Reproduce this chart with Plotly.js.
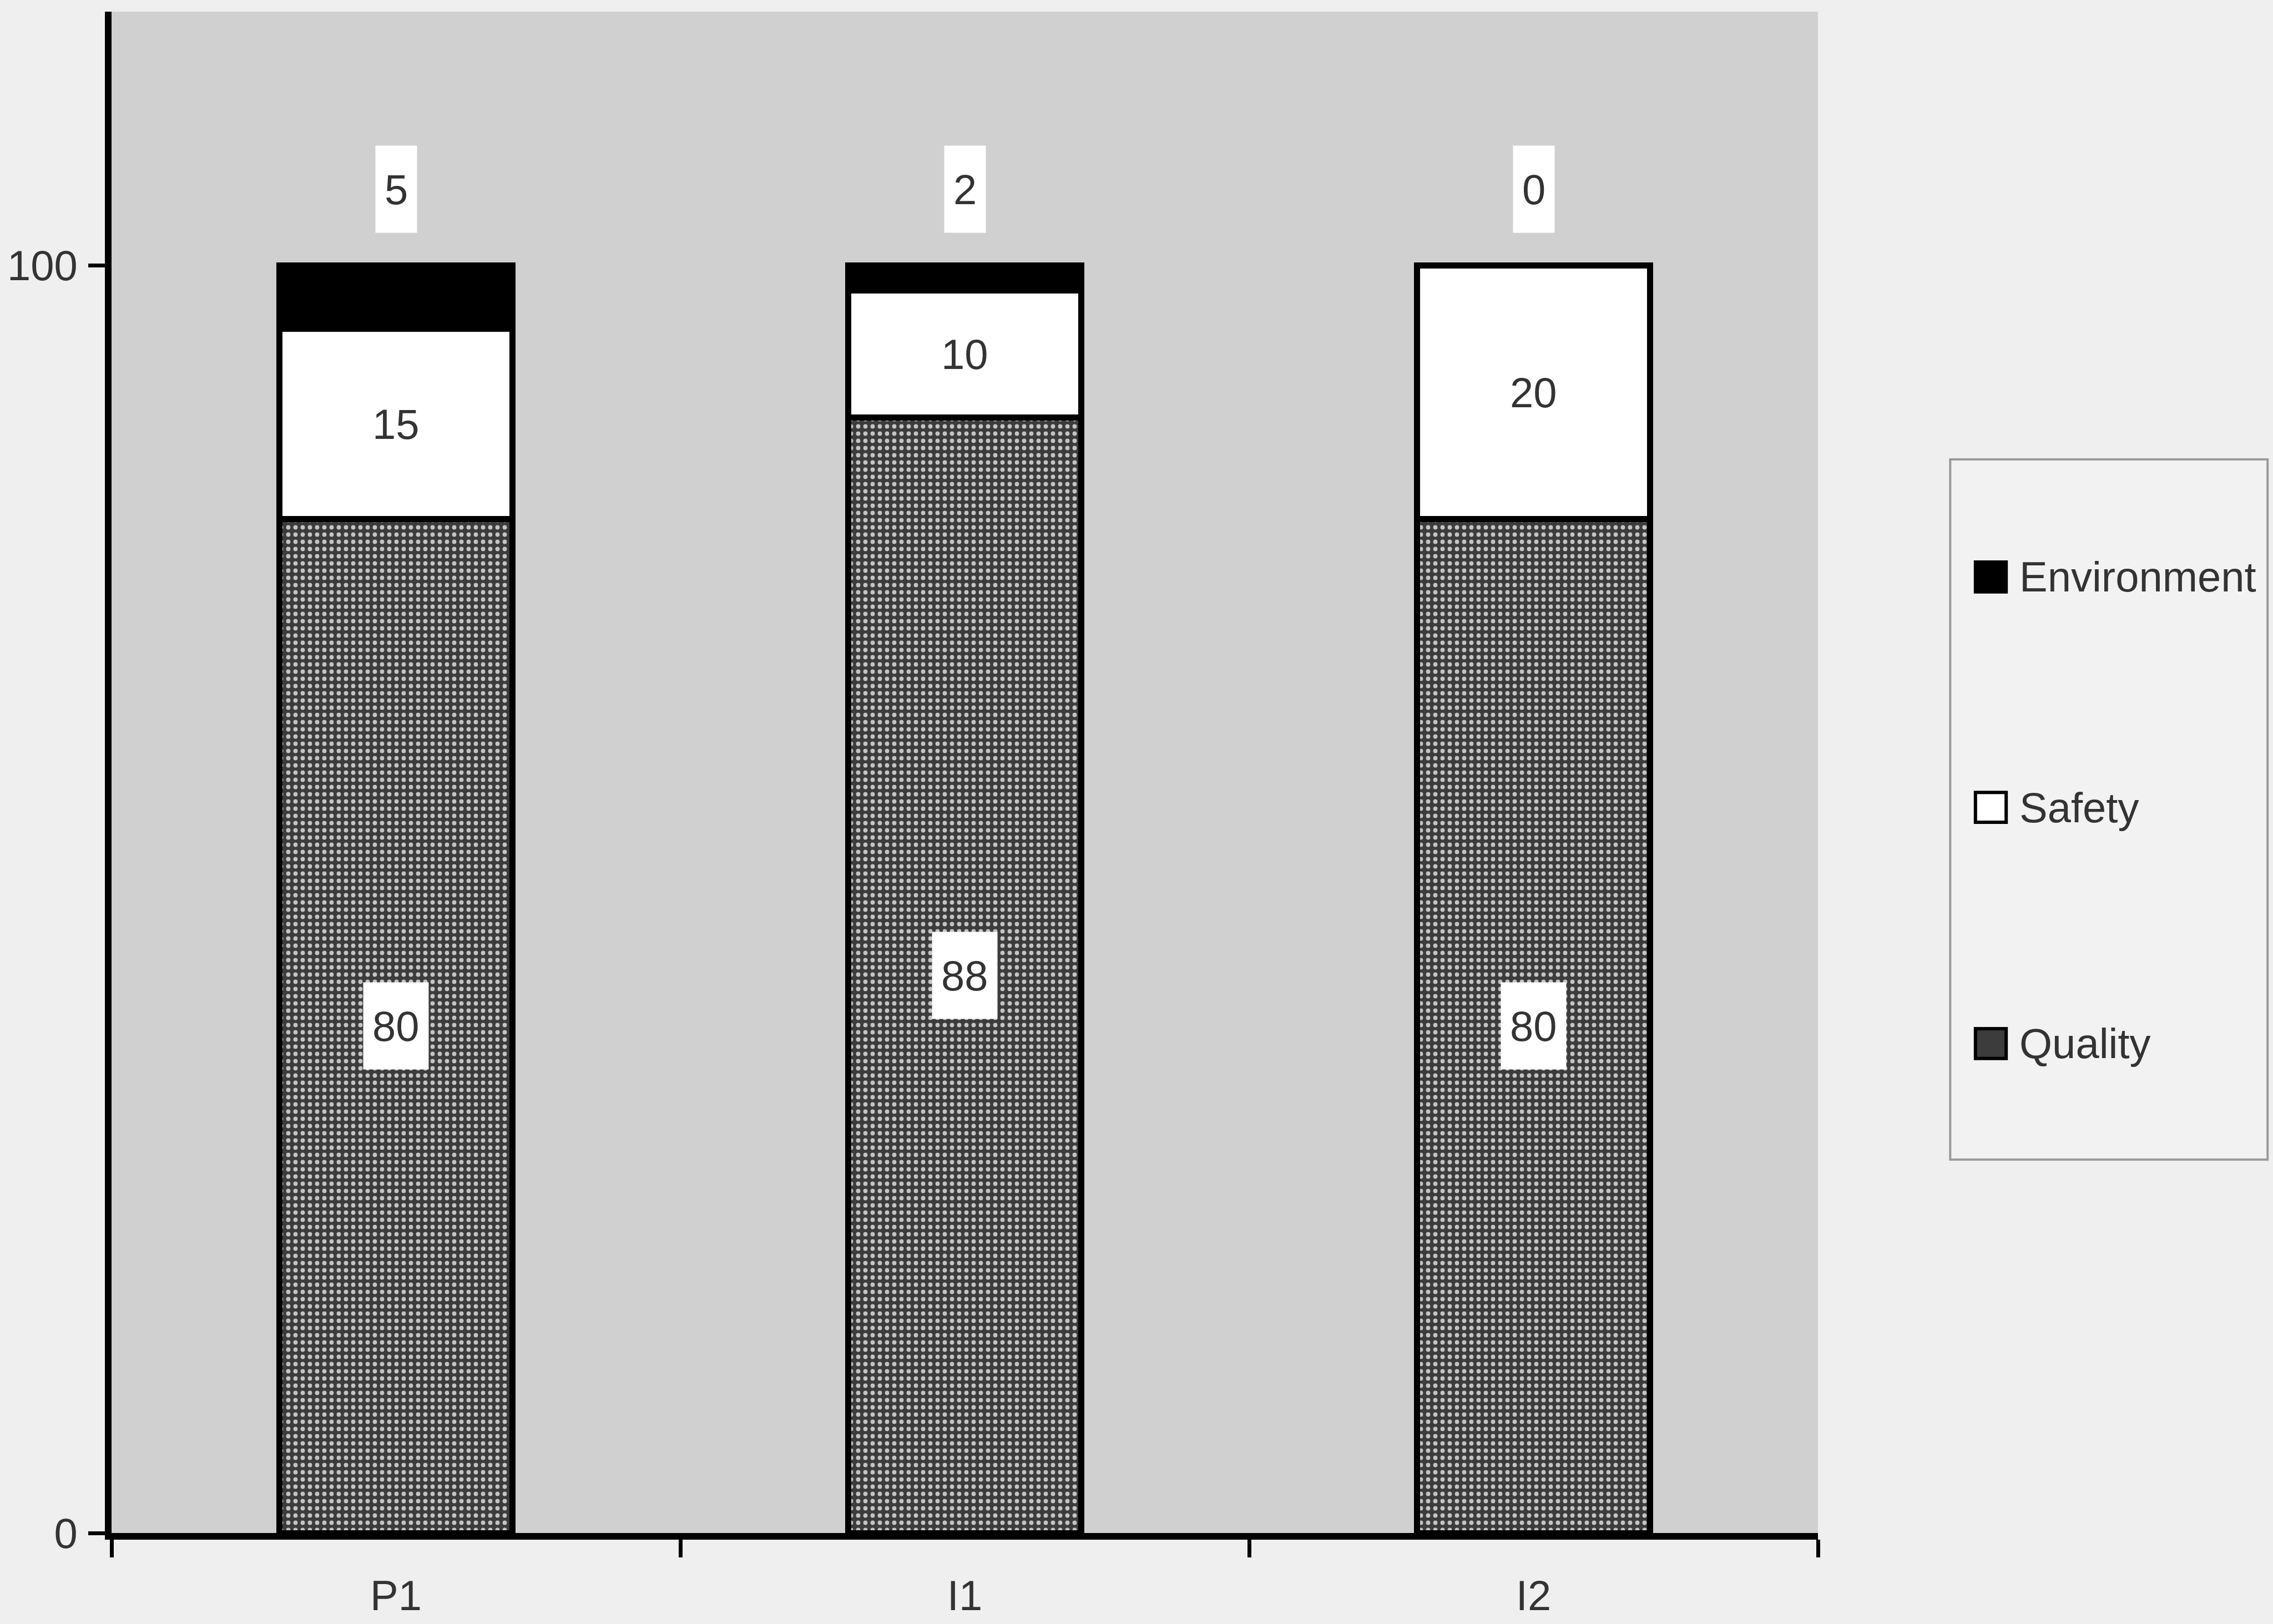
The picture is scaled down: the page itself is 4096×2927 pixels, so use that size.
<!DOCTYPE html>
<html>
<head>
<meta charset="utf-8">
<script src="https://cdn.plot.ly/plotly-3.0.1.min.js"></script>
<style>
  html, body { margin: 0; padding: 0; background: #efefef; }
  #chart { width: 4096px; height: 2927px; }
</style>
</head>
<body>
<div id="chart"></div>
<script>
// Share of findings per audit, stacked by type
const categories = ['P1', 'I1', 'I2'];
const quality = [80, 88, 80];
const safety = [15, 10, 20];
const environment = [5, 2, 0];
const seriesNames = ['Environment', 'Safety', 'Quality'];
const yTickVals = [0, 100];
const yTickText = ['0', '100'];

const FONT = 'Liberation Sans, Arial, sans-serif';
const TEXT = '#333333';
const LABEL_SIZE = 76;
const EDGE = { color: '#000000', width: 11 };
const BAR_W = 0.41;

const traces = [
  {
    type: 'bar', name: 'Quality', x: categories, y: quality, width: BAR_W,
    marker: {
      color: '#3c3c3c', line: EDGE,
      pattern: { shape: '.', bgcolor: '#3c3c3c', fgcolor: '#c4c4c4', size: 13, solidity: 0.28 }
    },
    hoverinfo: 'x+y+name'
  },
  {
    type: 'bar', name: 'Safety', x: categories, y: safety, width: BAR_W,
    marker: { color: '#ffffff', line: EDGE },
    hoverinfo: 'x+y+name'
  },
  {
    type: 'bar', name: 'Environment', x: categories, y: environment, width: BAR_W,
    marker: { color: '#000000', line: EDGE },
    hoverinfo: 'x+y+name'
  }
];

// Value labels in white boxes
const annotations = [];
function label(x, y, v, yshift) {
  annotations.push({
    x: x, y: y, xref: 'x', yref: 'y', text: String(v), showarrow: false,
    yanchor: 'middle', yshift: yshift || 0,
    bgcolor: '#ffffff', borderpad: 16, height: 124,
    font: { family: FONT, size: LABEL_SIZE, color: TEXT }
  });
}
categories.forEach((c, i) => {
  label(c, quality[i] / 2, quality[i]);
  label(c, quality[i] + safety[i] / 2, safety[i]);
  label(c, quality[i] + safety[i] + environment[i], environment[i], 137);
});

// Legend panel on the right
const shapes = [];
const legendBox = { x0: 1.0775, x1: 1.2635, y0: 0.2454, y1: 0.7057 };
shapes.push({
  type: 'rect', xref: 'paper', yref: 'paper',
  x0: legendBox.x0, x1: legendBox.x1, y0: legendBox.y0, y1: legendBox.y1,
  fillcolor: '#f2f2f2', line: { color: '#9a9a9a', width: 4 }, layer: 'below'
});
const swatchFill = { Environment: '#000000', Safety: '#ffffff', Quality: '#3c3c3c' };
const itemY = [0.6284, 0.4770, 0.3217];
const swX0 = 1.0923, swX1 = 1.1103, swHalf = 0.0098;
seriesNames.forEach((n, k) => {
  shapes.push({
    type: 'rect', xref: 'paper', yref: 'paper',
    x0: swX0, x1: swX1, y0: itemY[k] - swHalf, y1: itemY[k] + swHalf,
    fillcolor: swatchFill[n], line: { color: '#000000', width: 6 }
  });
  annotations.push({
    xref: 'paper', yref: 'paper', x: 1.1175, y: itemY[k],
    xanchor: 'left', yanchor: 'middle', text: n, showarrow: false,
    font: { family: FONT, size: LABEL_SIZE, color: TEXT }
  });
});

const layout = {
  width: 4096, height: 2927,
  margin: { l: 201, r: 820, t: 21, b: 164, pad: 0 },
  paper_bgcolor: '#efefef',
  plot_bgcolor: '#d0d0d0',
  barmode: 'stack',
  showlegend: false,
  font: { family: FONT, size: LABEL_SIZE, color: TEXT },
  xaxis: {
    type: 'category', range: [-0.5, 2.5],
    showline: true, linecolor: '#000000', linewidth: 12,
    ticks: 'outside', tickson: 'boundaries', ticklen: 32, tickwidth: 7, tickcolor: '#000000',
    ticklabelstandoff: 36,
    showgrid: false, zeroline: false,
    tickfont: { family: FONT, size: LABEL_SIZE, color: TEXT }
  },
  yaxis: {
    range: [0, 120],
    tickvals: yTickVals, ticktext: yTickText,
    showline: true, linecolor: '#000000', linewidth: 12,
    ticks: 'outside', ticklen: 30, tickwidth: 7, tickcolor: '#000000',
    ticklabelstandoff: 4,
    showgrid: false, zeroline: false,
    tickfont: { family: FONT, size: LABEL_SIZE, color: TEXT }
  },
  annotations: annotations,
  shapes: shapes
};

Plotly.newPlot('chart', traces, layout, { staticPlot: true, displayModeBar: false });
</script>
</body>
</html>
